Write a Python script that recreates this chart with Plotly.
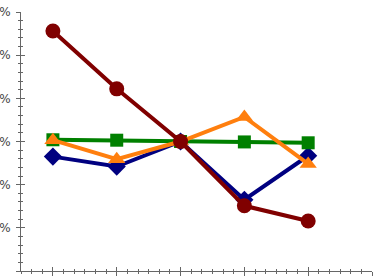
import plotly.graph_objects as go

categories = [0, 1, 2, 3, 4]
series_red = [125.6, 112.2, 100.0, 85.1, 81.6]
series_orange = [100.3, 95.9, 100.0, 105.7, 94.8]
series_green = [100.4, 100.3, 100.0, 99.9, 99.7]
series_navy = [96.5, 94.2, 100.0, 86.5, 96.7]
y_ticks = [70, 80, 90, 100, 110, 120, 130]

fig = go.Figure()

def add(vals, color, symbol, size):
    fig.add_trace(go.Scatter(
        x=categories, y=vals, mode="lines+markers",
        line=dict(color=color, width=4),
        marker=dict(color=color, symbol=symbol, size=size, line=dict(width=0, color=color)),
        showlegend=False, hoverinfo="skip", cliponaxis=False))

add(series_navy, "#000080", "diamond", 14)
add(series_green, "#008000", "square", 13)
add(series_orange, "#FF7F0E", "triangle-up", 15)
add(series_red, "#800000", "circle", 15)

fig.add_trace(go.Scatter(x=[], y=[], xaxis="x2", yaxis="y2", showlegend=False))

axcol = "#666666"
fig.update_layout(
    width=376, height=277,
    margin=dict(l=20.5, r=4, t=12, b=6, autoexpand=False),
    paper_bgcolor="white", plot_bgcolor="white",
    font=dict(family="DejaVu Sans", size=12, color="#444444"),
    xaxis=dict(range=[-0.5, 5], showgrid=False, zeroline=False, automargin=False,
               showline=True, linecolor=axcol, linewidth=1,
               ticks="outside", ticklen=4, tickcolor=axcol, tick0=0, dtick=1,
               showticklabels=False,
               minor=dict(ticks="outside", ticklen=2, tickcolor=axcol, dtick=1/6, tick0=0)),
    yaxis=dict(range=[70, 130], showgrid=False, zeroline=False, automargin=False,
               showline=True, linecolor=axcol, linewidth=1,
               ticks="outside", ticklen=4, tickcolor=axcol,
               tickvals=y_ticks, ticktext=[f"{v}%" for v in y_ticks],
               ticklabelstandoff=3,
               minor=dict(ticks="outside", ticklen=2, tickcolor=axcol, dtick=2, tick0=70)),
    xaxis2=dict(range=[-0.5, 5], overlaying="x", anchor="y2", showgrid=False, zeroline=False,
                automargin=False,
                showline=False, ticks="inside", ticklen=4, tickcolor=axcol, tick0=0, dtick=1,
                showticklabels=False,
                minor=dict(ticks="inside", ticklen=2, tickcolor=axcol, dtick=1/6, tick0=0)),
    yaxis2=dict(range=[70, 130], overlaying="y", anchor="x2", showgrid=False, zeroline=False,
                automargin=False,
                showline=False, ticks="inside", ticklen=4, tickcolor=axcol, dtick=10, tick0=70,
                showticklabels=False,
                minor=dict(ticks="inside", ticklen=2, tickcolor=axcol, dtick=2, tick0=70)),
)

fig.write_html("out.html")
